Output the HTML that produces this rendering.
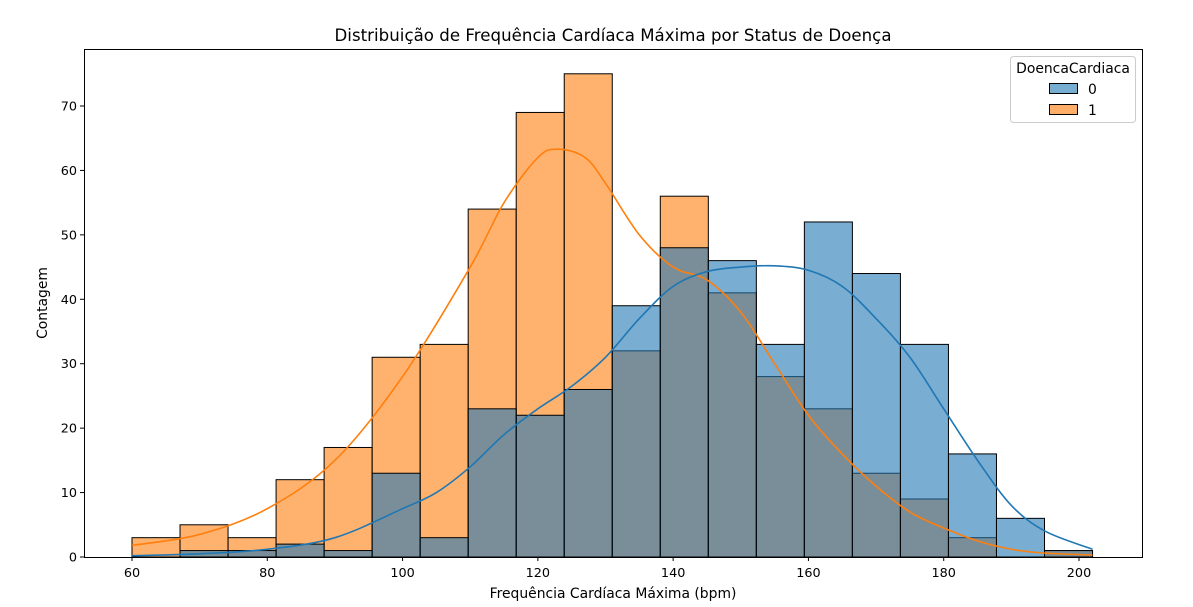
<!DOCTYPE html>
<html><head><meta charset="utf-8"><style>
body{margin:0;background:#fff;font-family:"Liberation Sans","DejaVu Sans",sans-serif}
svg text{font-family:"DejaVu Sans","Liberation Sans",sans-serif}
</style></head><body>
<svg id="chart" width="1193" height="602" xmlns="http://www.w3.org/2000/svg">
<text x="613" y="41" text-anchor="middle" font-size="16.6" textLength="557">Distribuição de Frequência Cardíaca Máxima por Status de Doença</text>
<g id="marks"></g>
<rect x="84.5" y="49.5" width="1058" height="508" fill="none" stroke="#000" stroke-width="1"/>
<g id="axes"></g>
<text x="613" y="598" text-anchor="middle" font-size="13.9">Frequência Cardíaca Máxima (bpm)</text>
<text transform="translate(47,303) rotate(-90)" text-anchor="middle" font-size="13.9">Contagem</text>
<g>
<rect x="1010.5" y="56.5" width="125" height="66" rx="3" fill="#fff" fill-opacity="0.8" stroke="#ccc"/>
<text x="1073" y="73" text-anchor="middle" font-size="13.9">DoencaCardiaca</text>
<rect x="1049.5" y="83.5" width="28" height="10" fill="rgb(120,173,210)" stroke="#000"/>
<text x="1088" y="94" font-size="13.9">0</text>
<rect x="1049.5" y="104.5" width="28" height="10" fill="rgb(255,174,106)" stroke="#000"/>
<text x="1088" y="115" font-size="13.9">1</text>
</g>
</svg>
<script>
const binStart=60, binWidth=7.1;
const countsDisease=[3,5,3,12,17,31,33,54,69,75,32,56,41,28,23,13,9,3,0,1];
const countsHealthy=[0,1,1,2,1,13,3,23,22,26,39,48,46,33,52,44,33,16,6,1];
const kdeX=[60,70,80,90,100,110,115,120,123,127,130,135,140,145,150,155,160,165,170,175,180,185,190,195,202];
const kdeDisease=[1.8,3.5,7.5,15,28,45,55,62,63.3,62,58,50,45,43,38,30,22,16,11,7,4.5,2.5,1.2,0.6,0.3];
const kdeHealthyX=[60,70,80,90,100,105,110,115,120,125,130,135,140,145,150,155,160,165,170,175,180,185,190,195,202];
const kdeHealthy=[0.2,0.5,1.2,3,7.5,10,14,19,23,26.5,31,37,42,44.3,45,45.2,44.5,42,37,31,23,15,8,4,1.2];
const xTicks=[60,80,100,120,140,160,180,200];
const yTicks=[0,10,20,30,40,50,60,70];
const sx=v=>132+(v-60)*947/140;
const sy=v=>557-v*451/70;
const NS="http://www.w3.org/2000/svg";
const marks=document.getElementById('marks'), axes=document.getElementById('axes');
function mk(tag,attrs,parent){const e=document.createElementNS(NS,tag);for(const k in attrs)e.setAttribute(k,attrs[k]);parent.appendChild(e);return e;}
countsDisease.forEach((c,i)=>{const x0=sx(binStart+i*binWidth),x1=sx(binStart+(i+1)*binWidth);
 if(c<=0)return;
 const r=mk('rect',{x:x0,y:sy(c),width:x1-x0,height:sy(0)-sy(c),fill:'rgba(255,127,14,0.6)',stroke:'#000','stroke-width':1},marks);
 
 });
countsHealthy.forEach((c,i)=>{const x0=sx(binStart+i*binWidth),x1=sx(binStart+(i+1)*binWidth);
 if(c<=0)return;
 const r=mk('rect',{x:x0,y:sy(c),width:x1-x0,height:sy(0)-sy(c),fill:'rgba(31,119,180,0.6)',stroke:'#000','stroke-width':1},marks);
 
 });
function line(xs,ys,col,name){const p=xs.map((x,i)=>[sx(x),sy(ys[i])]);
 let d='M'+p[0][0]+','+p[0][1];
 for(let i=0;i<p.length-1;i++){const p0=p[i-1]||p[i],p1=p[i],p2=p[i+1],p3=p[i+2]||p2;
  d+=` C${p1[0]+(p2[0]-p0[0])/6},${p1[1]+(p2[1]-p0[1])/6} ${p2[0]-(p3[0]-p1[0])/6},${p2[1]-(p3[1]-p1[1])/6} ${p2[0]},${p2[1]}`;}
 const e=mk('path',{d:d,fill:'none',stroke:col,'stroke-width':1.6},marks);
 
 }
line(kdeX,kdeDisease,'#ff7f0e','kde-line-disease');
line(kdeHealthyX,kdeHealthy,'#1f77b4','kde-line-healthy');
xTicks.forEach(t=>{mk('line',{x1:sx(t),x2:sx(t),y1:557,y2:561,stroke:'#000'},axes);
 const tx=mk('text',{x:sx(t),y:577,'text-anchor':'middle','font-size':12.8},axes);tx.textContent=t;
 
 });
yTicks.forEach(t=>{mk('line',{x1:80,x2:84,y1:sy(t),y2:sy(t),stroke:'#000'},axes);
 const tx=mk('text',{x:77,y:sy(t)+4.5,'text-anchor':'end','font-size':12.8},axes);tx.textContent=t;
 
 });
</script>
</body></html>
